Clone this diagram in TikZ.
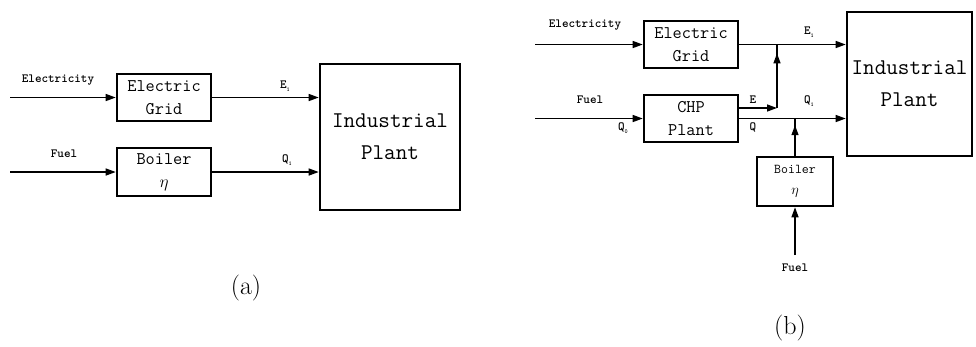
\documentclass[tikz,border=0pt]{standalone}
\usepackage{fontspec}
\usetikzlibrary{arrows.meta,decorations.markings}
\newcommand{\subsc}[1]{\raisebox{-2.5pt}{\fontsize{6}{6}\selectfont #1}}
\begin{document}
\begin{tikzpicture}[x=1pt,y=-1pt,
  box/.style={draw,line width=2.6pt,align=center,inner sep=0pt,
    font=\ttfamily\fontsize{17.8}{23}\selectfont},
  bigbox/.style={box,font=\ttfamily\fontsize{22.5}{32}\selectfont},
  flow/.style={line width=1.4pt,-{Triangle[length=10pt,width=7pt]}},
  plain/.style={line width=1.4pt},
  midarrow/.style={plain,postaction={decorate},decoration={markings,
    mark=at position #1 with {\arrow{Triangle[length=10pt,width=7pt]}}}},
  lbl/.style={font=\ttfamily\bfseries\fontsize{12.5}{14}\selectfont,inner sep=0pt},
  captxt/.style={font=\fontsize{26}{30}\selectfont,inner sep=0pt}]
\useasboundingbox (0,0) rectangle (976,346);
% ---------------- (a)
\node[box,minimum width=94pt,minimum height=47pt] (egA) at (164,97.5) {Electric\\Grid};
\node[box,minimum width=94pt,minimum height=48pt] (boA) at (164,172) {Boiler\\$\eta$};
\node[bigbox,minimum width=140pt,minimum height=146pt] (ipA) at (390,137) {Industrial\\Plant};
\coordinate (elA) at (10,97.5);
\coordinate (fuA) at (10,172);
\draw[flow] (elA) -- (egA.west);
\draw[flow] (fuA) -- (boA.west);
\draw[flow] (egA.east) -- (ipA.west |- egA.east);
\draw[flow] (boA.east) -- (ipA.west |- boA.east);
\node[lbl] (lelA) at (58,80) {Electricity};
\node[lbl] (lfuA) at (64,154) {Fuel};
\node[lbl] (le1A) at (285,86) {E\subsc{1}};
\node[lbl] (lq1A) at (287,160) {Q\subsc{1}};
\node[captxt] (capA) at (246,288) {(a)};
% ---------------- (b)
\node[box,minimum width=94pt,minimum height=47pt] (egB) at (691,44.5) {Electric\\Grid};
\node[box,minimum width=94pt,minimum height=47pt] (chp) at (691,118.5) {CHP\\Plant};
\node[bigbox,minimum width=125pt,minimum height=144pt] (ipB) at (909.5,84) {Industrial\\Plant};
\node[box,minimum width=76pt,minimum height=49pt,font=\ttfamily\fontsize{13.5}{21}\selectfont] (boB) at (795,181.5) {Boiler\\$\eta$};
\coordinate (elB) at (535,44.5);
\coordinate (fuB) at (535,118.5);
\coordinate (j1) at (777,44.5);
\coordinate (c1) at (777,108);
\coordinate (j2) at (795,118.5);
\coordinate (fuBot) at (795,255);
\draw[flow] (elB) -- (egB.west);
\draw[flow] (fuB) -- (chp.west);
\draw[flow] (egB.east) -- (ipB.west |- egB.east);
\draw[flow] (chp.east) -- (ipB.west |- chp.east);
\draw[flow] (chp.east |- c1) -- (c1);
\draw[midarrow=0.86] (c1) -- (j1);
\draw[midarrow=0.82] (boB.north) -- (j2);
\draw[flow] (fuBot) -- (boB.south);
\node[lbl] (lelB) at (585,25) {Electricity};
\node[lbl] (lfuB) at (590,100) {Fuel};
\node[lbl] (lq0) at (623,128) {Q\subsc{0}};
\node[lbl] (lE) at (753,100) {E};
\node[lbl] (lQ) at (753,127) {Q};
\node[lbl] (le1B) at (809,32) {E\subsc{1}};
\node[lbl] (lq1B) at (809,101) {Q\subsc{1}};
\node[lbl] (lfuC) at (795,268) {Fuel};
\node[captxt] (capB) at (790,328) {(b)};
\end{tikzpicture}
\end{document}
